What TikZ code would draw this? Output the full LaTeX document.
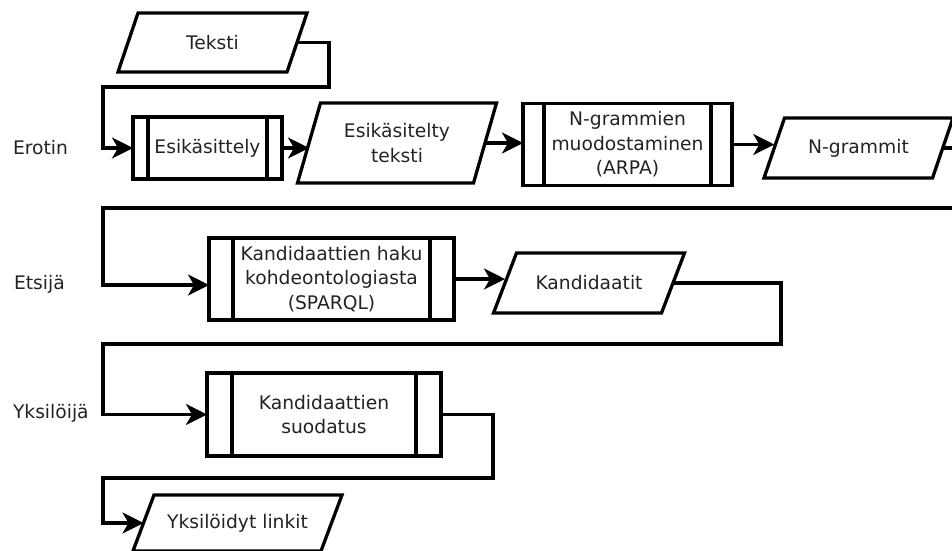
\documentclass[tikz,border=0pt]{standalone}
\usepackage{fontspec}
\setmainfont{DejaVu Sans}
\usetikzlibrary{arrows.meta,calc}
\definecolor{txt}{RGB}{35,35,35}

% parallelogram around a (borderless) node: #1 node name, #2 half of the horizontal skew
\newcommand\paraframe[2]{%
  \draw[frame] ($(#1.north west)+(#2,0)$) -- ($(#1.north east)+(#2,0)$)
    -- ($(#1.south east)-(#2,0)$) -- ($(#1.south west)-(#2,0)$) -- cycle;}
% the two inner side bars of a predefined-process box
\newcommand\sidebars[2]{%
  \draw[frame] ($(#1.north west)+(#2,0)$) -- ($(#1.south west)+(#2,0)$);
  \draw[frame] ($(#1.north east)-(#2,0)$) -- ($(#1.south east)-(#2,0)$);}

\begin{document}
\begin{tikzpicture}[x=1pt,y=-1pt,
  every node/.style={font=\fontsize{18.7}{24.5}\selectfont, text=txt, align=center, outer sep=0pt, inner sep=0pt},
  frame/.style={line width=3.3pt, line join=miter, draw=black},
  procbox/.style={draw=black, line width=3.3pt, rectangle},
  iobox/.style={draw=none},
  flow/.style={line width=3.3pt, draw=black,
    -{Stealth[length=21pt,width=21pt,inset=6pt]}},
  stage/.style={anchor=west}]

\useasboundingbox (0,0) rectangle (952,550);
\clip (0,0) rectangle (952,550);

% stage labels
\node[stage] (lerotin) at (13,148) {Erotin};
\node[stage] (letsija) at (14,284) {Etsijä};
\node[stage] (lyksiloija) at (13,413) {Yksilöijä};

% first row
\node[iobox, minimum width=169pt, minimum height=59pt] (teksti) at (212.5,42.5) {Teksti};
\paraframe{teksti}{10pt}
\node[procbox, minimum width=149pt, minimum height=62pt] (esik) at (207.5,148) {Esikäsittely};
\sidebars{esik}{15pt}
\node[iobox, minimum width=176pt, minimum height=80pt] (esikt) at (397,143) {Esikäsitelty\\teksti};
\paraframe{esikt}{11.5pt}
\node[procbox, minimum width=209pt, minimum height=82pt] (ngp) at (627.5,144.5) {N-grammien\\muodostaminen\\(ARPA)};
\sidebars{ngp}{21pt}
\node[iobox, minimum width=168.5pt, minimum height=60pt] (ngr) at (858.5,148) {N-grammit};
\paraframe{ngr}{10.25pt}

% second row
\node[procbox, minimum width=245pt, minimum height=82pt] (khaku) at (331.5,279) {Kandidaattien haku\\kohdeontologiasta\\(SPARQL)};
\sidebars{khaku}{24pt}
\node[iobox, minimum width=168pt, minimum height=60pt] (kand) at (589,283) {Kandidaatit};
\paraframe{kand}{11.5pt}

% third row
\node[procbox, minimum width=234pt, minimum height=83pt] (suod) at (324,414.5) {Kandidaattien\\suodatus};
\sidebars{suod}{25pt}
\node[iobox, minimum width=188pt, minimum height=56pt] (ylink) at (237.5,523) {Yksilöidyt linkit};
\paraframe{ylink}{10.5pt}

% routing points
\coordinate (t1) at (329,87);
\coordinate (t2) at (103,87);
\coordinate (r1) at (965,208);
\coordinate (l1) at (103,208);
\coordinate (k1) at (781,344);
\coordinate (l2) at (103,344);
\coordinate (s1) at (493,478);
\coordinate (l3) at (103,478);
\coordinate (ein) at (103,285);

% connectors
\draw[flow] (teksti.east) -| (t1) -- (t2) |- (esik.west);
\draw[flow] (esik.east) -- (esik.east -| esikt.west);
\draw[flow] (esikt.east) -- (esikt.east -| ngp.west);
\draw[flow] (ngp.east) -- (ngp.east -| ngr.west);
\draw[flow] (ngr.east) -| (r1) -- (l1) -- (ein) -- (ein -| khaku.west);
\draw[flow] (khaku.east) -- (khaku.east -| kand.west);
\draw[flow] (kand.east) -| (k1) -- (l2) |- (suod.west);
\draw[flow] (suod.east) -| (s1) -- (l3) |- (ylink.west);

\end{tikzpicture}
\end{document}
